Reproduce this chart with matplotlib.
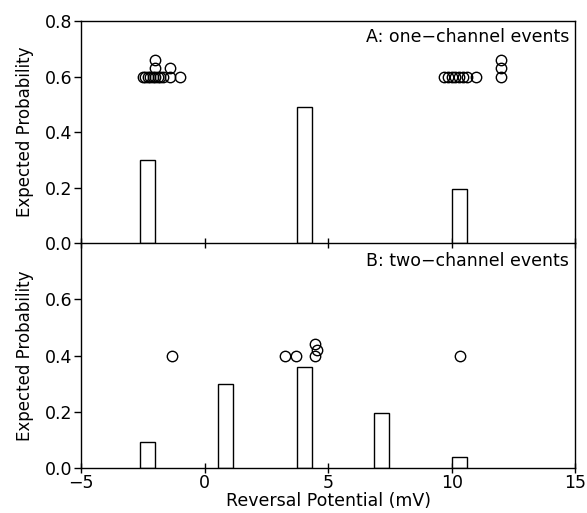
import numpy as np
import matplotlib
matplotlib.use('Agg')
import matplotlib.pyplot as plt

# panel A: one-channel events
a_bar_x = [-2.3, 4.05, 10.3]
a_bar_h = [0.30, 0.49, 0.195]
a_pts_x = [-2.5, -2.4, -2.3, -2.2, -2.1, -2.0, -1.9, -1.8, -2.0, -2.0, -1.7, -1.4, -1.4, -1.0,
           9.7, 9.85, 10.0, 10.15, 10.3, 10.45, 10.6, 11.0, 12.0, 12.0, 12.0]
a_pts_y = [0.6, 0.6, 0.6, 0.6, 0.6, 0.6, 0.6, 0.6, 0.63, 0.66, 0.6, 0.6, 0.63, 0.6,
           0.6, 0.6, 0.6, 0.6, 0.6, 0.6, 0.6, 0.6, 0.6, 0.63, 0.66]

# panel B: two-channel events
b_bar_x = [-2.3, 0.85, 4.05, 7.15, 10.3]
b_bar_h = [0.093, 0.30, 0.36, 0.195, 0.04]
b_pts_x = [-1.3, 3.25, 3.7, 4.45, 4.55, 4.45, 10.35]
b_pts_y = [0.4, 0.4, 0.4, 0.44, 0.42, 0.40, 0.4]

bar_w = 0.6

plt.rcParams['font.family'] = ['DejaVu Sans']
plt.rcParams['font.size'] = 12.5

fig = plt.figure(figsize=(5.87, 5.13), dpi=100)
ax1 = fig.add_axes([0.138, 0.526, 0.842, 0.433])
ax2 = fig.add_axes([0.138, 0.0877, 0.842, 0.4383])
ax2.patch.set_visible(False)

for ax, bx, bh, px, py in [(ax1, a_bar_x, a_bar_h, a_pts_x, a_pts_y),
                           (ax2, b_bar_x, b_bar_h, b_pts_x, b_pts_y)]:
    ax.bar(bx, bh, width=bar_w, facecolor='white', edgecolor='black', linewidth=1.0, zorder=2)
    ax.plot(px, py, 'o', mfc='none', mec='black', ms=7.5, mew=1.0, zorder=3)
    ax.set_xlim(-5, 15)
    ax.set_ylim(0, 0.8)
    ax.set_xticks([-5, 0, 5, 10, 15])
    ax.tick_params(axis='x', direction='inout', length=7, width=1, pad=1)
    ax.tick_params(axis='y', direction='out', length=5, width=1, pad=1)
    ax.set_ylabel('Expected Probability', fontsize=12)
    for s in ax.spines.values():
        s.set_linewidth(1.0)

ax1.set_yticks([0.0, 0.2, 0.4, 0.6, 0.8])
ax1.set_yticklabels(['0.0', '0.2', '0.4', '0.6', '0.8'])
ax1.tick_params(axis='x', labelbottom=False)

ax2.set_yticks([0.0, 0.2, 0.4, 0.6])
ax2.set_yticklabels(['0.0', '0.2', '0.4', '0.6'])
ax2.spines['top'].set_visible(False)
ax2.set_xlabel('Reversal Potential (mV)', labelpad=0)

ax1.yaxis.set_label_coords(-0.095, 0.5)
ax2.yaxis.set_label_coords(-0.095, 0.5)

ax1.text(0.988, 0.93, 'A: one\u2212channel events', transform=ax1.transAxes,
         ha='right', va='center')
ax2.text(0.988, 0.92, 'B: two\u2212channel events', transform=ax2.transAxes,
         ha='right', va='center')

fig.savefig('out.png', dpi=100)
